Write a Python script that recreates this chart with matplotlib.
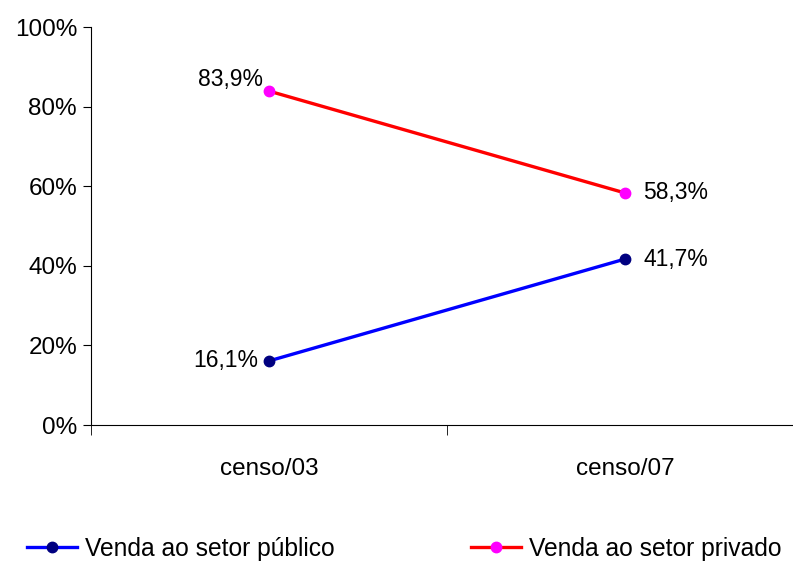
import matplotlib.pyplot as plt
from matplotlib.ticker import FixedLocator

plt.rcParams['font.family'] = ['Liberation Sans', 'DejaVu Sans']

categories = ['censo/03', 'censo/07']
publico = [16.1, 41.7]
privado = [83.9, 58.3]
labels_publico = ['16,1%', '41,7%']
labels_privado = ['83,9%', '58,3%']
yticks = [0, 20, 40, 60, 80, 100]

fig = plt.figure(figsize=(7.93, 5.63), dpi=100)
# the category axis runs a little past the right edge of the image
ax = fig.add_axes([91 / 793, 1 - 425 / 563, 712 / 793, 398 / 563])

x = list(range(len(categories)))
ax.plot(x, publico, color='#0000FF', lw=2.4, marker='o', ms=7.5,
        mfc='#000080', mec='#000080', label='Venda ao setor público')
ax.plot(x, privado, color='#FF0000', lw=2.4, marker='o', ms=7.5,
        mfc='#FF00FF', mec='#FF00FF', label='Venda ao setor privado')

ax.set_xlim(-0.5, 1.5)
ax.set_ylim(0, 100)
ax.set_yticks(yticks)
ax.set_yticklabels([f'{v}%' for v in yticks], fontsize=17.5)
ax.set_xticks(x)
ax.set_xticklabels(categories, fontsize=17.5)
ax.tick_params(axis='x', which='major', length=0, pad=24)
ax.xaxis.set_minor_locator(FixedLocator([-0.5, 0.5, 1.5]))
ax.tick_params(axis='x', which='minor', length=7, direction='out')
ax.tick_params(axis='y', length=6, direction='out', pad=4)

for s in ['top', 'right']:
    ax.spines[s].set_visible(False)

# data labels
ax.annotate(labels_privado[0], (x[0], privado[0]), xytext=(-4, 8),
            textcoords='offset points', ha='right', va='center', fontsize=16.5)
ax.annotate(labels_privado[1], (x[1], privado[1]), xytext=(13, 0),
            textcoords='offset points', ha='left', va='center', fontsize=16.5)
ax.annotate(labels_publico[0], (x[0], publico[0]), xytext=(-8, 0),
            textcoords='offset points', ha='right', va='center', fontsize=16.5)
ax.annotate(labels_publico[1], (x[1], publico[1]), xytext=(13, 0),
            textcoords='offset points', ha='left', va='center', fontsize=16.5)

fig.legend(loc='center left', bbox_to_anchor=(27 / 793, 1 - 549 / 563),
           ncol=2, frameon=False, fontsize=17.7, handlelength=2.05,
           handletextpad=0.3, columnspacing=5.55, borderaxespad=0,
           borderpad=0)

fig.savefig('out.png', dpi=100)
